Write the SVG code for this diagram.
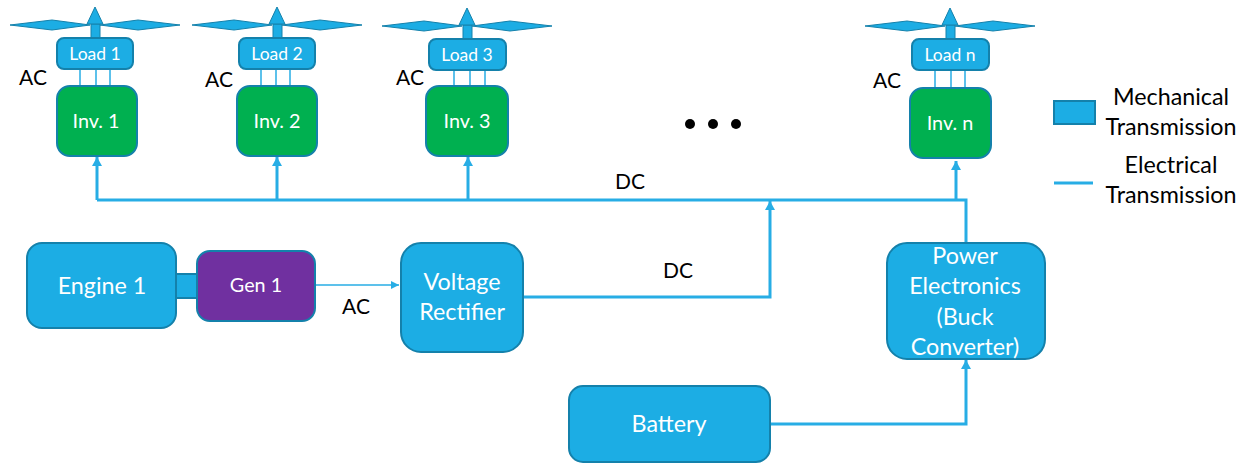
<svg xmlns="http://www.w3.org/2000/svg" width="1247" height="465" viewBox="0 0 1247 465">
<style>
text{font-family:"Lato","Open Sans","Liberation Sans",sans-serif;text-anchor:middle}
.b{fill:#1cade4;stroke:#1481ab;stroke-width:2}
.g{fill:#00b050;stroke:#1481ab;stroke-width:2}
.p{fill:#7030a0;stroke:#1481ab;stroke-width:2}
.w{fill:#fff}
.k{fill:#000}
.t{font-size:21px}
.l{font-size:23.3px}
.s{font-size:17.5px}
.m{font-size:19.8px}
.e{fill:none;stroke:#27ade5;stroke-width:3}
.a{fill:none;stroke:#27ade5;stroke-width:1.5}
.r{fill:#1cade4;stroke:#1481ab;stroke-width:1}
</style>
<defs>
<marker id="ah" markerUnits="userSpaceOnUse" markerWidth="10" markerHeight="10" refX="9" refY="5" orient="auto"><path d="M0 0L9 5L0 10Z" fill="#27ade5"/></marker>
<marker id="as" markerUnits="userSpaceOnUse" markerWidth="9" markerHeight="8" refX="8" refY="4" orient="auto"><path d="M0 0L8 4L0 8Z" fill="#27ade5"/></marker>
<g id="rotor"><path class="r" d="M-85 18L-43 13L-5 18L-43 23Z"/><path class="r" d="M85 18L43 13L5 18L43 23Z"/><path class="r" d="M-4 17H5V31H-4Z"/><path class="r" d="M0 0L8 17H-8Z"/></g>
</defs>
<g id="connectors">
<path class="e" d="M97 200H966V243"/>
<path class="e" marker-end="url(#ah)" d="M97 200V157"/>
<path class="e" marker-end="url(#ah)" d="M277 200V157"/>
<path class="e" marker-end="url(#ah)" d="M468 200V157"/>
<path class="e" marker-end="url(#ah)" d="M956 200V161"/>
<path class="e" marker-end="url(#ah)" d="M524 297H770V201"/>
<path class="e" marker-end="url(#ah)" d="M771 424H966V360"/>
<path class="a" marker-end="url(#as)" d="M316 285H399"/>
<path class="a" d="M80 69V86M96 69V86M110 69V86M261 69V86M276 69V86M290 69V86M454 70V86M470 70V86M485 70V86M935 70V88M951 70V88M965 70V88"/>
</g>
<g id="rotor-1"><use href="#rotor" x="95" y="7"/></g>
<g id="rotor-2"><use href="#rotor" x="277" y="7"/></g>
<g id="rotor-3"><use href="#rotor" x="467" y="8"/></g>
<g id="rotor-n"><use href="#rotor" x="950" y="8"/></g>
<g id="load-1"><rect class="b" x="57" y="38" width="76" height="31" rx="7"/><text class="w s" x="95" y="60">Load 1</text></g>
<g id="load-2"><rect class="b" x="239" y="38" width="76" height="31" rx="7"/><text class="w s" x="277" y="60">Load 2</text></g>
<g id="load-3"><rect class="b" x="429" y="39" width="77" height="31" rx="7"/><text class="w s" x="467" y="61">Load 3</text></g>
<g id="load-n"><rect class="b" x="912" y="39" width="77" height="31" rx="7"/><text class="w s" x="950" y="61">Load n</text></g>
<g id="inv-1"><rect class="g" x="57" y="86" width="80" height="70" rx="13"/><text class="w m" x="96" y="128">Inv. 1</text></g>
<g id="inv-2"><rect class="g" x="237" y="86" width="80" height="70" rx="13"/><text class="w m" x="277" y="128">Inv. 2</text></g>
<g id="inv-3"><rect class="g" x="426" y="86" width="82" height="70" rx="13"/><text class="w m" x="467" y="128">Inv. 3</text></g>
<g id="inv-n"><rect class="g" x="910" y="88" width="81" height="70" rx="13"/><text class="w m" x="950" y="130">Inv. n</text></g>
<g id="shaft"><rect class="b" x="170" y="274" width="30" height="24" stroke="none"/></g>
<g id="engine-1"><rect class="b" x="27" y="243" width="149" height="85" rx="15"/><text class="w l" x="102" y="294">Engine 1</text></g>
<g id="gen-1"><rect class="p" x="197" y="251" width="118" height="70" rx="13"/><text class="w m" x="256" y="292">Gen 1</text></g>
<g id="rectifier"><rect class="b" x="401" y="243" width="122" height="109" rx="20"/><text class="w l" x="462" y="290">Voltage</text><text class="w l" x="462" y="320">Rectifier</text></g>
<g id="power-electronics"><rect class="b" x="887" y="243" width="158" height="116" rx="20"/><text class="w l" x="965" y="264">Power</text><text class="w l" x="965" y="294">Electronics</text><text class="w l" x="965" y="325">(Buck</text><text class="w l" x="965" y="355">Converter)</text></g>
<g id="battery"><rect class="b" x="569" y="386" width="201" height="76" rx="14"/><text class="w l" x="669" y="432">Battery</text></g>
<g id="labels">
<text class="k t" x="33" y="85">AC</text>
<text class="k t" x="219" y="87">AC</text>
<text class="k t" x="410" y="85">AC</text>
<text class="k t" x="887" y="88">AC</text>
<text class="k t" x="356" y="314">AC</text>
<text class="k t" x="630" y="189">DC</text>
<text class="k t" x="678" y="278">DC</text>
<circle cx="690" cy="124" r="5" fill="#000"/><circle cx="713" cy="124" r="5" fill="#000"/><circle cx="736" cy="124" r="5" fill="#000"/>
</g>
<g id="legend">
<rect class="b" x="1054" y="101" width="41" height="23"/>
<path d="M1054 183H1093" class="e"/>
<text class="k l" x="1171" y="105">Mechanical</text>
<text class="k l" x="1171" y="135">Transmission</text>
<text class="k l" x="1171" y="173">Electrical</text>
<text class="k l" x="1171" y="203">Transmission</text>
</g>
</svg>
